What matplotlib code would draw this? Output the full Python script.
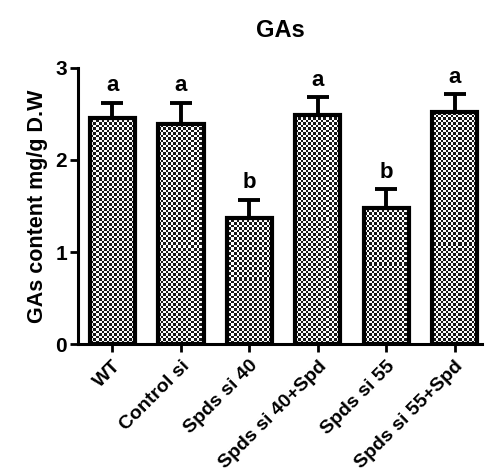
import numpy as np
import matplotlib
matplotlib.use('Agg')
import matplotlib.pyplot as plt

# Données
groupes = ['WT', 'Control si', 'Spds si 40', 'Spds si 40+Spd', 'Spds si 55', 'Spds si 55+Spd']
moyennes = [2.46, 2.39, 1.37, 2.49, 1.48, 2.52]
erreurs = [0.16, 0.23, 0.20, 0.19, 0.20, 0.19]
lettres = ['a', 'a', 'b', 'a', 'b', 'a']

plt.rcParams['font.family'] = ['Liberation Sans', 'DejaVu Sans']
plt.rcParams['font.weight'] = 'bold'

fig = plt.figure(figsize=(4.89, 4.74), dpi=100)
ax = fig.add_axes([0.16, 0.274, 0.826, 0.583])

x = np.arange(len(groupes))
barres = ax.bar(x, moyennes, width=0.66, color='none', edgecolor='black', linewidth=3.0, zorder=3)
ax.errorbar(x, moyennes, yerr=[np.zeros(len(erreurs)), erreurs], fmt='none',
            ecolor='black', elinewidth=2.8, capsize=8, capthick=2.8, zorder=1)

ax.set_xlim(-0.5, 5.4)
ax.set_ylim(0, 3)

# Motif en damier découpé sur chaque barre
h, w = 276, 404
ii, jj = np.mgrid[0:h, 0:w]
damier = ((np.floor(ii / 2.5) + np.floor(jj / 2.5)) % 2).astype(float)
for b in barres:
    im = ax.imshow(damier, extent=(-0.5, 5.4, 0, 3), aspect='auto', cmap='gray',
                   interpolation='nearest', zorder=2, vmin=-0.1, vmax=1)
    im.set_clip_path(b)

for xi, m, e, l in zip(x, moyennes, erreurs, lettres):
    ax.text(xi, m + e + 0.07, l, ha='center', va='bottom', fontsize=16, fontweight='bold')

ax.set_yticks([0, 1, 2, 3])
ax.set_xticks(x)
ax.set_xticklabels(groupes, rotation=45, ha='right', rotation_mode='anchor', fontsize=14, fontweight='bold')
ax.tick_params(axis='y', labelsize=15, width=2, length=6, pad=2)
ax.tick_params(axis='x', width=2, length=6)
for lab in ax.get_yticklabels():
    lab.set_fontweight('bold')
ax.spines['top'].set_visible(False)
ax.spines['right'].set_visible(False)
ax.spines['left'].set_linewidth(2.2)
ax.spines['bottom'].set_linewidth(2.2)

ax.set_ylabel('GAs content mg/g D.W', fontsize=15.5, fontweight='bold', labelpad=5)
ax.set_title('GAs', fontsize=17, fontweight='bold', pad=22)

fig.savefig('out.png', dpi=100)
